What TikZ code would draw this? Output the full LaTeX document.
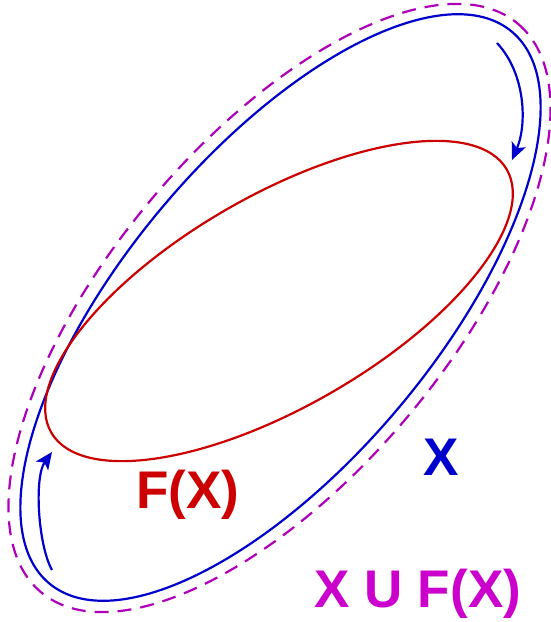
\documentclass[tikz,border=0pt]{standalone}
\usepackage{fontspec}
\setmainfont{Liberation Sans}
\usepackage{tikz}
\usetikzlibrary{arrows.meta}
\definecolor{setblue}{RGB}{0,0,204}
\definecolor{setred}{RGB}{204,0,0}
\definecolor{unionpurple}{RGB}{175,0,185}
\definecolor{unionmagenta}{RGB}{204,0,204}

\begin{document}
\begin{tikzpicture}[x=1pt, y=-1pt,
    setline/.style={line width=2.2pt},
    mapsto/.style={line width=2.2pt, setblue, -{Stealth[length=17pt, width=15pt, inset=4pt]}},
    setlabel/.style={font=\fontsize{53}{63}\selectfont\bfseries, anchor=base, inner sep=0pt}]
    \useasboundingbox (0,0) rectangle (551,622);

    % union X U F(X), dashed
    \draw[setline, unionpurple, dash pattern=on 14pt off 9pt, rotate around={50:(279.5,308)}]
        (279.5,308) ellipse [x radius=371, y radius=168];

    % the set X
    \draw[setline, setblue, rotate around={50:(280.5,307.5)}]
        (280.5,307.5) ellipse [x radius=360, y radius=155];

    % its image F(X)
    \draw[setline, setred, rotate around={30:(279,301)}]
        (279,301) ellipse [x radius=263, y radius=105.5];

    % the map, drawn twice
    \coordinate (topstart) at (497,43);
    \coordinate (toptip) at (512,160);
    \coordinate (botstart) at (52,570);
    \coordinate (bottip) at (52,452);
    \draw[mapsto] (topstart) .. controls (526,74) and (527,125) .. (toptip);
    \draw[mapsto] (botstart) .. controls (38,545) and (34,477) .. (bottip);

    % labels
    \node[setlabel, setred] (fxlabel) at (188,508) {F(X)};
    \node[setlabel, setblue] (xlabel) at (441,475) {X};
    \node[setlabel, unionmagenta] (unionlabel) at (418,607) {X U F(X)};
\end{tikzpicture}
\end{document}
